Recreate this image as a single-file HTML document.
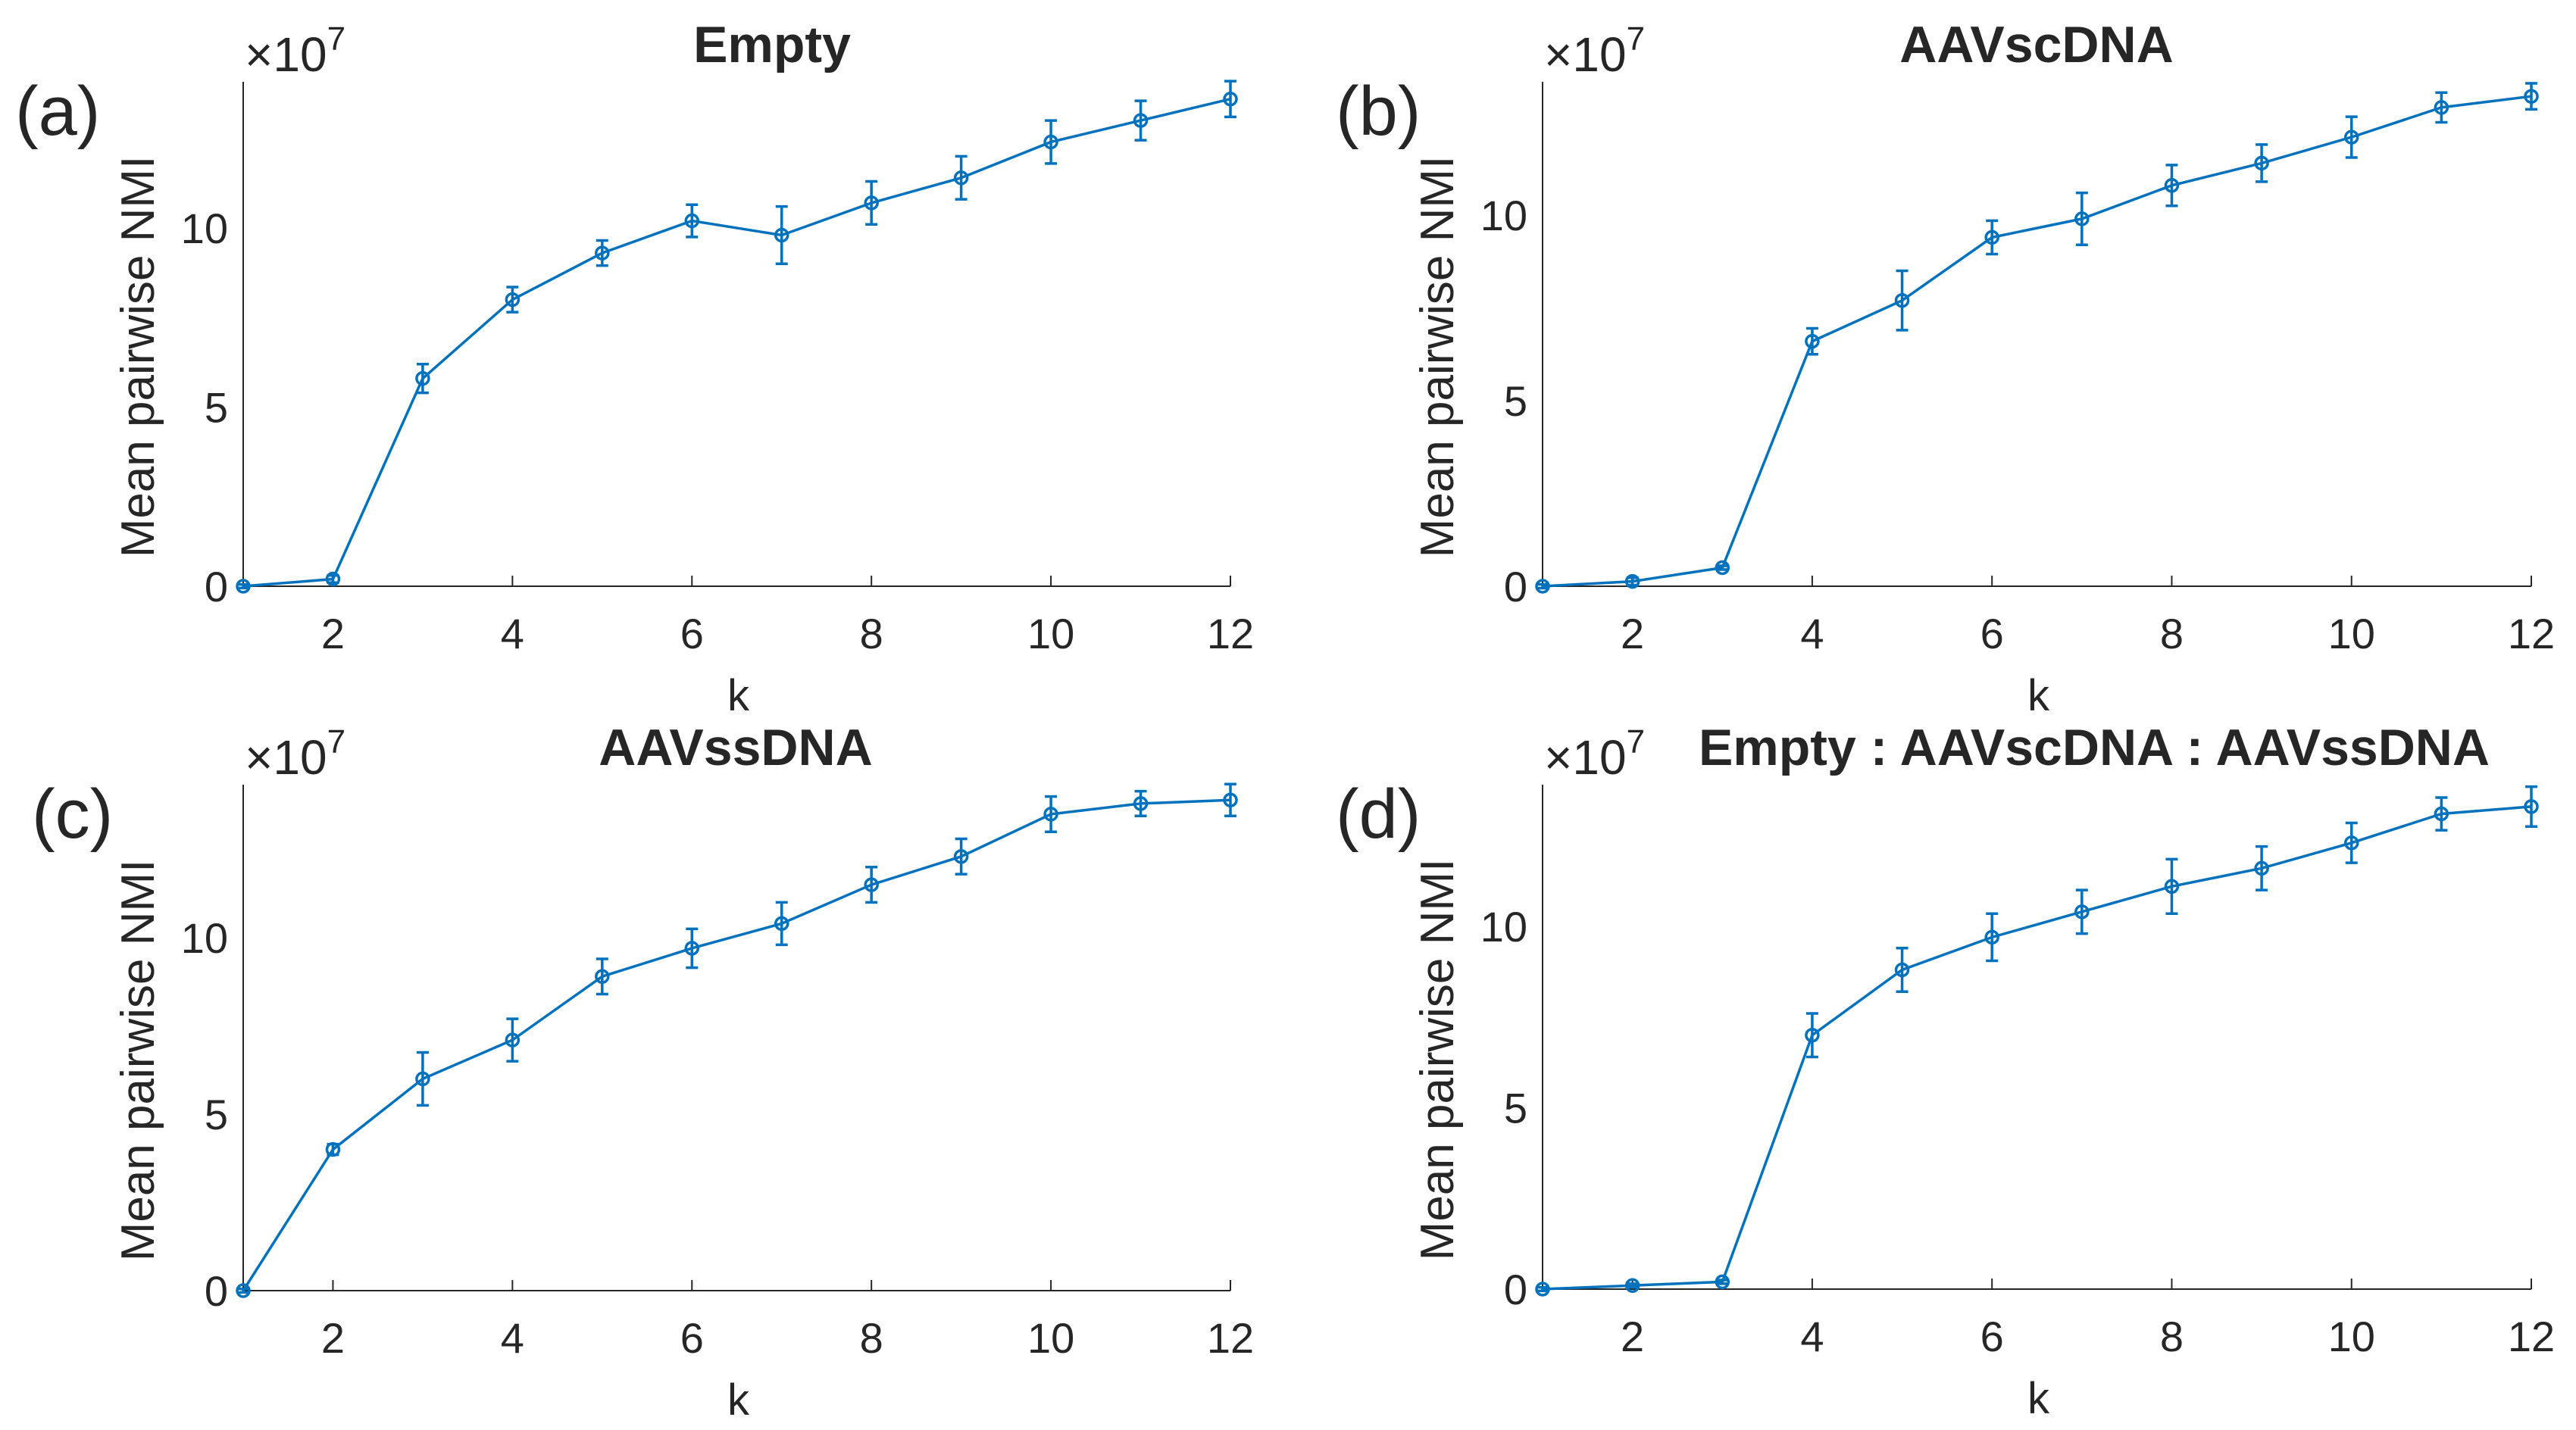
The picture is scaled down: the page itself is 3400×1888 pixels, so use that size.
<!DOCTYPE html>
<html><head><meta charset="utf-8"><style>
body{margin:0;background:#fff}
svg{display:block}
text{font-family:"Liberation Sans",sans-serif;fill:#262626}
</style></head><body>
<svg id="fig" width="3400" height="1888" viewBox="0 0 3400 1888" xmlns="http://www.w3.org/2000/svg"></svg>
<script>
const kValues=[1,2,3,4,5,6,7,8,9,10,11,12];
const xTicks=[2,4,6,8,10,12];
const yTicks=[0,5,10];
const titles=["Empty","AAVscDNA","AAVssDNA","Empty : AAVscDNA : AAVssDNA"];
const panelLetters=["(a)","(b)","(c)","(d)"];
const meansA=[0,0.2,5.8,8.0,9.3,10.2,9.8,10.7,11.4,12.4,13.0,13.6];
const errA=[0.05,0.1,0.4,0.35,0.35,0.45,0.8,0.6,0.6,0.6,0.55,0.5];
const meansB=[0,0.13,0.5,6.6,7.7,9.4,9.9,10.8,11.4,12.1,12.9,13.2];
const errB=[0.05,0.1,0.05,0.35,0.8,0.45,0.7,0.55,0.5,0.55,0.4,0.35];
const meansC=[0,4.0,6.0,7.1,8.9,9.7,10.4,11.5,12.3,13.5,13.8,13.9];
const errC=[0.05,0.15,0.75,0.6,0.5,0.55,0.6,0.5,0.5,0.5,0.35,0.45];
const meansD=[0,0.1,0.2,7.0,8.8,9.7,10.4,11.1,11.6,12.3,13.1,13.3];
const errD=[0.05,0.05,0.05,0.6,0.6,0.65,0.6,0.75,0.6,0.55,0.45,0.55];
const seriesMeans=[meansA,meansB,meansC,meansD];
const seriesErr=[errA,errB,errC,errD];
const layouts=[
 {x1:321,x12:1624,y0:774,y10:301,top:108,ox:0,oy:0},
 {x1:2036,x12:3341,y0:774,y10:284,top:108,ox:1715,oy:0},
 {x1:321,x12:1624,y0:1704,y10:1238,top:1036,ox:0,oy:928},
 {x1:2036,x12:3341,y0:1702,y10:1223,top:1036,ox:1715,oy:928}
];
const NS="http://www.w3.org/2000/svg";
const svg=document.getElementById('fig');
function mk(tag,attrs,parent,txt){const e=document.createElementNS(NS,tag);for(const k in attrs)e.setAttribute(k,attrs[k]);if(txt!==undefined)e.textContent=txt;parent.appendChild(e);return e;}
const C="#0072BD";
layouts.forEach((L,i)=>{
 const g=mk('g',{},svg);
 
 
 const xs=k=>L.x1+(k-1)*(L.x12-L.x1)/11;
 const ys=v=>L.y0-v*(L.y0-L.y10)/10;
 const ax=mk('path',{d:`M${L.x1} ${L.top}V${L.y0}H${L.x12}`,stroke:"#262626","stroke-width":2,fill:"none"},g);
 
 
 xTicks.forEach(t=>{
  const tk=mk('line',{x1:xs(t),x2:xs(t),y1:L.y0,y2:L.y0-14,stroke:"#262626","stroke-width":2},g);
  
  
  const tl=mk('text',{x:xs(t),y:L.y0+82,"font-size":56,"text-anchor":"middle"},g,String(t));
  
  
 });
 yTicks.forEach(t=>{
  const tl=mk('text',{x:L.x1-20,y:ys(t)+20,"font-size":56,"text-anchor":"end"},g,String(t));
  
  
 });
 const ex=mk('text',{x:L.x1+2,y:L.top-14,"font-size":64},g);
 
 
 ex.innerHTML='×10<tspan dy="-28" font-size="44">7</tspan>';
 const xl=mk('text',{x:(L.x1+L.x12)/2+2,y:L.y0+164,"font-size":58,"text-anchor":"middle"},g,"k");
 
 
 const cy=(L.top+L.y0)/2+30, cx=L.x1-118;
 const yl=mk('text',{x:cx,y:cy,"font-size":62,"text-anchor":"middle",transform:`rotate(-90 ${cx} ${cy})`},g,"Mean pairwise NMI");
 
 
 const titleX=[1019,2688,971,2764][i];
 const tt=mk('text',{x:titleX,y:L.top-26,"font-size":68,"font-weight":"bold","text-anchor":"middle",fill:"#000"},g,titles[i]);
 
 
 const lx=[20,1763,42,1763][i];
 const pl=mk('text',{x:lx,y:L.top+70,"font-size":92,fill:"#000"},g,panelLetters[i]);
 
 
 const m=seriesMeans[i], e=seriesErr[i];
 const ln=mk('polyline',{points:kValues.map((k,j)=>xs(k)+','+ys(m[j])).join(' '),fill:"none",stroke:C,"stroke-width":3.5},g);
 
 
 kValues.forEach((k,j)=>{
  const x=xs(k),yt=ys(m[j]+e[j]),yb=ys(m[j]-e[j]);
  const eb=mk('path',{d:`M${x} ${yt}V${yb}M${x-8} ${yt}H${x+8}M${x-8} ${yb}H${x+8}`,stroke:C,"stroke-width":3.5,fill:"none"},g);
  
  
  const pt=mk('circle',{cx:x,cy:ys(m[j]),r:8,fill:"none",stroke:C,"stroke-width":3.5},g);
  
  
 });
});
</script>
</body></html>
